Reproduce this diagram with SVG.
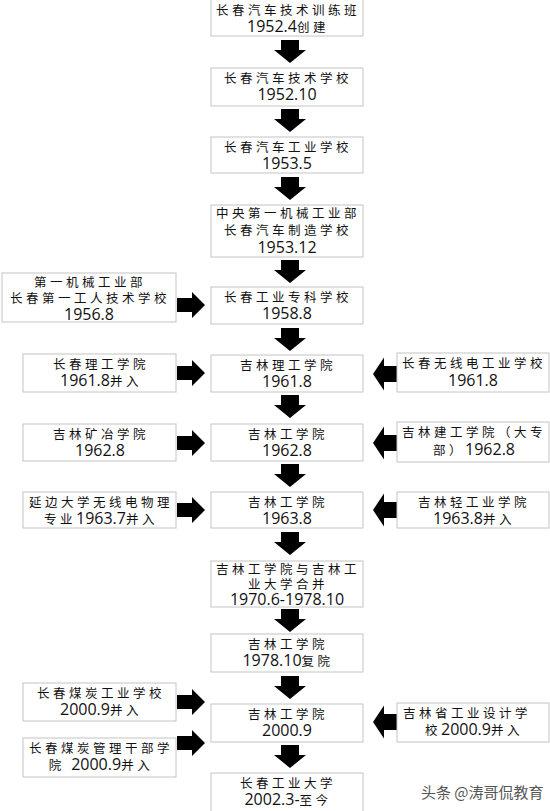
<svg xmlns="http://www.w3.org/2000/svg" width="550" height="811" viewBox="0 0 550 811">
<defs>
<style>
.box{fill:#fff;stroke:#c4c4c4;stroke-width:1}
text{font-family:"Open Sans",Lato,"Noto Sans CJK SC",sans-serif;font-size:16px;fill:#111;text-anchor:middle}
.cn{font-family:"Noto Sans CJK SC",sans-serif;font-size:12.5px;letter-spacing:3.5px}
.arr{fill:#000}
.wm{font-family:"Noto Sans CJK SC",sans-serif;font-size:15px;fill:#555;text-anchor:start}
</style>
<path id="down" d="M-9,0 H9 V10 H16 L0,23 L-16,10 H-9 Z"/>
<path id="right" d="M0,-7 H15 V-13 L28,0 L15,13 V7 H0 Z"/>
<path id="left" d="M0,0 L11,-16.5 V-8 H24 V8 H11 V16.5 Z"/>
</defs>
<rect width="550" height="811" fill="#fff"/>
<g id="connectors" class="arr">
<use href="#down" x="290" y="40"/>
<use href="#down" x="290" y="109"/>
<use href="#down" x="290" y="177"/>
<use href="#down" x="290" y="260"/>
<use href="#down" x="290" y="328"/>
<use href="#down" x="290" y="395"/>
<use href="#down" x="290" y="464"/>
<use href="#down" x="290" y="532"/>
<use href="#down" x="290" y="609"/>
<use href="#down" x="290" y="676"/>
<use href="#down" x="290" y="745"/>
<use href="#right" x="177" y="305"/>
<use href="#right" x="177" y="373"/>
<use href="#right" x="177" y="443"/>
<use href="#right" x="177" y="510"/>
<use href="#right" x="177" y="702"/>
<use href="#right" x="177" y="743"/>
<use href="#left" x="373" y="374"/>
<use href="#left" x="373" y="443"/>
<use href="#left" x="373" y="510"/>
<use href="#left" x="373" y="722"/>
</g>
<g id="n1"><rect class="box" x="211" y="-2" width="152" height="38"/>
<text x="288" y="15"><tspan class="cn">长春汽车技术训练班</tspan></text>
<text x="288" y="32">1952.4<tspan class="cn">创建</tspan></text></g>
<g id="n2"><rect class="box" x="211" y="68" width="152" height="38"/>
<text x="288" y="83"><tspan class="cn">长春汽车技术学校</tspan></text>
<text x="287" y="100">1952.10</text></g>
<g id="n3"><rect class="box" x="211" y="137" width="152" height="36"/>
<text x="288" y="152"><tspan class="cn">长春汽车工业学校</tspan></text>
<text x="287" y="169">1953.5</text></g>
<g id="n4"><rect class="box" x="211" y="205" width="152" height="52"/>
<text x="288" y="218"><tspan class="cn">中央第一机械工业部</tspan></text>
<text x="288" y="235"><tspan class="cn">长春汽车制造学校</tspan></text>
<text x="287" y="253">1953.12</text></g>
<g id="n5"><rect class="box" x="211" y="287" width="152" height="37"/>
<text x="288" y="302"><tspan class="cn">长春工业专科学校</tspan></text>
<text x="287" y="319">1958.8</text></g>
<g id="n6"><rect class="box" x="211" y="355" width="152" height="37"/>
<text x="288" y="370"><tspan class="cn">吉林理工学院</tspan></text>
<text x="287" y="387">1961.8</text></g>
<g id="n7"><rect class="box" x="211" y="424" width="152" height="37"/>
<text x="288" y="439"><tspan class="cn">吉林工学院</tspan></text>
<text x="287" y="456">1962.8</text></g>
<g id="n8"><rect class="box" x="211" y="492" width="152" height="36"/>
<text x="288" y="507"><tspan class="cn">吉林工学院</tspan></text>
<text x="287" y="524">1963.8</text></g>
<g id="n9"><rect class="box" x="211" y="561" width="152" height="46"/>
<text x="288" y="574"><tspan class="cn">吉林工学院与吉林工</tspan></text>
<text x="288" y="589"><tspan class="cn">业大学合并</tspan></text>
<text x="287" y="605">1970.6-1978.10</text></g>
<g id="n10"><rect class="box" x="211" y="634" width="152" height="38"/>
<text x="288" y="649"><tspan class="cn">吉林工学院</tspan></text>
<text x="288" y="666">1978.10<tspan class="cn">复院</tspan></text></g>
<g id="n11"><rect class="box" x="211" y="704" width="152" height="38"/>
<text x="288" y="719"><tspan class="cn">吉林工学院</tspan></text>
<text x="287" y="736">2000.9</text></g>
<g id="n12"><rect class="box" x="211" y="773" width="152" height="40"/>
<text x="288" y="788"><tspan class="cn">长春工业大学</tspan></text>
<text x="288" y="805">2002.3-<tspan class="cn">至今</tspan></text></g>
<g id="l5"><rect class="box" x="2" y="273" width="174" height="49"/>
<text x="90" y="287"><tspan class="cn">第一机械工业部</tspan></text>
<text x="90" y="303"><tspan class="cn">长春第一工人技术学校</tspan></text>
<text x="89" y="320">1956.8</text></g>
<g id="l6"><rect class="box" x="23" y="354" width="153" height="38"/>
<text x="101" y="369"><tspan class="cn">长春理工学院</tspan></text>
<text x="101" y="386">1961.8<tspan class="cn">并入</tspan></text></g>
<g id="l7"><rect class="box" x="23" y="424" width="153" height="37"/>
<text x="101" y="439"><tspan class="cn">吉林矿冶学院</tspan></text>
<text x="100" y="456">1962.8</text></g>
<g id="l8"><rect class="box" x="23" y="492" width="153" height="36"/>
<text x="101" y="507"><tspan class="cn">延边大学无线电物理</tspan></text>
<text x="101" y="524"><tspan class="cn">专业</tspan>1963.7<tspan class="cn">并入</tspan></text></g>
<g id="l11a"><rect class="box" x="23" y="683" width="153" height="38"/>
<text x="101" y="698"><tspan class="cn">长春煤炭工业学校</tspan></text>
<text x="101" y="715">2000.9<tspan class="cn">并入</tspan></text></g>
<g id="l11b"><rect class="box" x="23" y="738" width="153" height="39"/>
<text x="101" y="753"><tspan class="cn">长春煤炭管理干部学</tspan></text>
<text x="101" y="770"><tspan class="cn">院 </tspan>2000.9<tspan class="cn">并入</tspan></text></g>
<g id="r6"><rect class="box" x="397" y="353" width="152" height="39"/>
<text x="474" y="368"><tspan class="cn">长春无线电工业学校</tspan></text>
<text x="473" y="386">1961.8</text></g>
<g id="r7"><rect class="box" x="397" y="422" width="152" height="40"/>
<text x="474" y="437"><tspan class="cn">吉林建工学院（大专</tspan></text>
<text x="474" y="455"><tspan class="cn">部）</tspan>1962.8</text></g>
<g id="r8"><rect class="box" x="397" y="492" width="152" height="36"/>
<text x="474" y="507"><tspan class="cn">吉林轻工业学院</tspan></text>
<text x="474" y="524">1963.8<tspan class="cn">并入</tspan></text></g>
<g id="r11"><rect class="box" x="397" y="703" width="152" height="39"/>
<text x="467" y="718"><tspan class="cn">吉林省工业设计学</tspan></text>
<text x="474" y="735"><tspan class="cn">校</tspan>2000.9<tspan class="cn">并入</tspan></text></g>
<text class="wm" x="421" y="798">头条 @涛哥侃教育</text>
</svg>
